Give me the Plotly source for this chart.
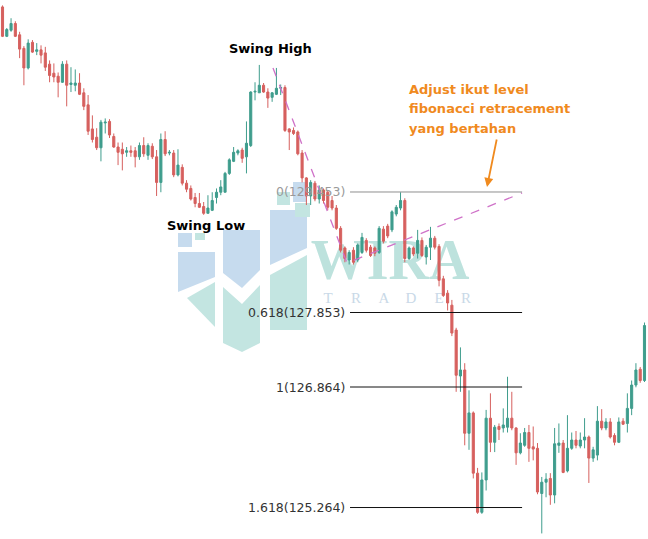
import plotly.graph_objects as go

# ---------------- data ----------------
opens = [131.91,131.52,131.60,131.69,131.54,131.36,131.10,131.44,131.32,131.34,
         131.30,131.15,131.03,130.99,130.91,131.15,130.88,130.87,130.90,130.77,
         130.61,130.29,130.18,130.04,130.37,130.39,130.19,130.05,130.02,129.98,
         130.00,130.00,129.92,130.07,129.94,130.06,129.92,129.58,130.15,129.97,
         129.97,129.68,129.78,129.57,129.50,129.38,129.30,129.26,129.17,129.21,
         129.38,129.45,129.45,129.70,129.86,129.97,130.01,129.92,130.07,130.78,
         130.77,130.87,130.78,130.71,130.75,130.83,130.84,130.29,130.27,130.25,
         129.97,129.64,129.40,129.57,129.36,129.48,129.45,129.34,129.24,128.97,
         128.71,128.55,128.68,128.55,128.65,128.81,128.72,128.71,128.65,128.96,
         129.00,128.95,129.16,129.24,129.34,128.57,128.71,128.64,128.81,128.59,
         128.72,128.84,128.73,128.30,128.11,127.95,127.62,127.01,127.09,126.25,
         126.52,125.72,125.20,125.63,126.45,126.13,126.34,126.32,126.33,126.45,
         126.32,125.99,126.09,126.26,126.07,126.05,125.45,125.60,125.65,125.43,
         126.09,126.12,125.75,126.05,126.16,126.08,126.16,126.20,125.92,125.96,
         126.41,126.32,126.40,126.22,126.13,126.41,126.38,126.58,126.89,127.10,
         126.95]
highs = [131.93,131.63,131.76,131.72,131.58,131.39,131.48,131.47,131.43,131.40,
         131.38,131.20,131.16,131.04,131.19,131.20,131.11,131.08,131.03,130.83,
         130.74,130.47,130.30,130.41,130.43,130.42,130.23,130.11,130.11,130.05,
         130.07,130.05,130.11,130.18,130.10,130.10,130.01,130.23,130.26,130.01,
         130.01,130.02,129.82,129.61,129.54,129.44,129.44,129.32,129.41,129.45,
         129.50,129.61,129.72,129.90,130.05,130.02,130.04,130.39,130.79,130.91,
         131.14,130.90,130.83,130.78,131.10,130.88,130.87,130.30,130.31,130.27,
         130.01,129.65,129.61,129.60,129.54,129.50,129.48,129.40,129.28,129.00,
         128.73,128.68,128.72,128.77,128.91,128.84,128.75,128.73,129.00,129.00,
         129.03,129.21,129.28,129.45,129.37,128.73,128.73,128.95,128.85,128.75,
         128.99,128.87,128.76,128.34,128.15,128.02,127.65,127.39,127.18,126.82,
         126.54,125.79,125.73,126.56,126.78,126.36,126.38,126.58,127.00,126.80,
         126.33,126.25,126.32,126.36,126.34,126.12,125.67,125.72,125.72,126.32,
         126.38,126.16,126.49,126.26,126.28,126.26,126.45,126.22,126.07,126.61,
         126.57,126.45,126.45,126.25,126.46,126.45,126.78,126.95,127.18,127.13,
         127.72]
lows = [131.51,131.51,131.58,131.51,131.23,130.87,131.08,131.30,131.27,131.16,
        131.06,130.91,130.91,130.71,130.90,130.59,130.78,130.79,130.74,130.54,
        130.21,130.11,130.01,129.86,130.23,130.17,130.04,129.81,129.74,129.92,
        129.92,129.78,129.88,129.92,129.88,129.89,129.40,129.45,129.93,129.94,
        129.65,129.66,129.54,129.45,129.34,129.25,129.24,129.15,129.17,129.20,
        129.30,129.41,129.45,129.68,129.85,129.94,129.84,129.70,130.05,130.67,
        130.77,130.77,130.57,130.65,130.74,130.74,130.25,130.01,130.21,129.94,
        129.58,129.28,129.28,129.33,129.30,129.30,129.21,129.21,128.95,128.65,
        128.52,128.49,128.49,128.52,128.63,128.65,128.59,128.60,128.63,128.77,
        128.84,128.92,129.13,129.21,128.52,128.55,128.60,128.57,128.59,128.49,
        128.55,128.69,128.20,128.06,127.88,127.54,126.80,126.80,126.09,126.03,
        125.65,125.18,125.18,125.49,126.00,126.00,126.16,126.26,126.26,126.29,
        125.83,125.97,126.07,125.87,125.89,125.44,124.92,125.40,125.30,125.32,
        125.99,125.72,125.73,126.03,126.05,126.05,126.05,125.59,125.87,125.89,
        126.29,126.29,126.18,126.09,126.12,126.36,126.26,126.49,126.86,126.92,
        126.93]
closes = [131.52,131.61,131.69,131.52,131.35,131.10,131.43,131.31,131.34,131.27,
          131.11,131.00,130.98,130.91,131.15,130.87,130.90,130.90,130.75,130.59,
          130.26,130.15,130.04,130.38,130.38,130.21,130.05,129.98,129.96,130.00,
          129.98,129.92,130.07,129.96,130.07,129.92,129.58,130.15,129.96,129.98,
          129.68,129.81,129.57,129.49,129.36,129.30,129.25,129.17,129.24,129.34,
          129.45,129.52,129.70,129.88,129.98,130.00,129.90,130.10,130.78,130.79,
          130.87,130.78,130.70,130.77,130.83,130.84,130.27,130.25,130.23,129.96,
          129.64,129.40,129.58,129.36,129.48,129.34,129.25,129.24,128.97,128.68,
          128.57,128.65,128.52,128.75,128.85,128.68,128.61,128.64,128.97,128.80,
          128.87,129.19,129.25,129.34,128.57,128.71,128.63,128.81,128.61,128.72,
          128.84,128.72,128.28,128.08,127.98,127.58,127.02,127.09,126.25,126.52,
          125.72,125.20,125.63,126.45,126.13,126.33,126.30,126.36,126.45,126.32,
          125.99,126.12,126.26,126.05,126.04,125.47,125.60,125.64,125.43,126.11,
          126.12,125.73,126.05,126.16,126.09,126.16,126.20,125.92,126.03,126.41,
          126.32,126.40,126.20,126.13,126.40,126.37,126.58,126.89,127.09,126.95,
          127.68]
bars = list(range(len(opens)))

fib_levels = [0, 0.618, 1, 1.618]
fib_prices = [129.453, 127.853, 126.864, 125.264]
fib_labels = [f"{l}({p:.3f})" for l, p in zip(fib_levels, fib_prices)]
fib_colors = ["#8f8f8f", "#111111", "#111111", "#111111"]
fib_label_colors = ["#9a9a9a", "#333333", "#333333", "#333333"]
fib_start, fib_end = 81.2, 121.4   # bar index span of the fib lines

# dashed guide: swing-high -> low of the pullback -> right end of level 0
guide_bars = [63.2, 80.5, 121.4]
guide_prices = [131.10, 128.51, 129.44]

swing_high = (62.5, 131.36)
swing_low = (47.5, 129.01)

note_lines = ["Adjust ikut level", "fibonacci retracement", "yang bertahan"]
wm_word = "WIRA"
wm_sub = list("TRADER")

# ---------------- figure ----------------
fig = go.Figure()

# watermark (pixel-like base axes, drawn beneath the chart)
BLUE = "#c6dbee"
TEAL = "#c3e5e1"
logo = [
    (BLUE, "M178,233 L192,233 L192,247 L178,247 Z"),
    (BLUE, "M178,252 L215,252 L215,277 L178,292 Z"),
    (BLUE, "M223,230 L260,230 L260,270 L242,288 L223,273 Z"),
    (BLUE, "M270,210 L307,210 L307,248 L270,265 Z"),
    (BLUE, "M293,182 L307,182 L307,202 L293,202 Z"),
    (TEAL, "M195,233 L205,233 L205,240 L195,240 Z"),
    (TEAL, "M187,298 L215,282 L215,327 Z"),
    (TEAL, "M223,287 L242,304 L260,285 L260,343 L242,352 L223,343 Z"),
    (TEAL, "M270,275 L307,255 L307,330 L270,330 Z"),
    (TEAL, "M277,192 L290,192 L290,205 L277,205 Z"),
    (TEAL, "M295,203 L310,203 L310,217 L295,217 Z"),
]
shapes = []
for col, path in logo:
    shapes.append(dict(type="path", path=path, xref="x", yref="y",
                       fillcolor=col, line=dict(width=0), layer="below"))

fig.add_trace(go.Scatter(x=[390], y=[265], mode="text", text=[wm_word],
                         textfont=dict(family="Liberation Serif", size=56,
                                       color="#bde2dd", weight="bold"),
                         hoverinfo="skip", showlegend=False, xaxis="x", yaxis="y"))
fig.add_trace(go.Scatter(x=[328, 356, 384, 411, 439, 466], y=[299] * 6, mode="text",
                         text=wm_sub,
                         textfont=dict(family="Liberation Serif", size=15, color="#c9d9e7"),
                         hoverinfo="skip", showlegend=False, xaxis="x", yaxis="y"))

# candles
fig.add_trace(go.Candlestick(
    x=bars, open=opens, high=highs, low=lows, close=closes,
    increasing=dict(line=dict(color="#3f9d8d", width=1), fillcolor="#3f9d8d"),
    decreasing=dict(line=dict(color="#d6605e", width=1), fillcolor="#d6605e"),
    whiskerwidth=0, showlegend=False, hoverinfo="skip",
    xaxis="x2", yaxis="y2"))

# dashed guide
fig.add_trace(go.Scatter(x=guide_bars, y=guide_prices, mode="lines",
                         line=dict(color="#cf72c8", width=1.3, dash="dash"),
                         hoverinfo="skip", showlegend=False, xaxis="x2", yaxis="y2"))

# fib lines
for p, c in zip(fib_prices, fib_colors):
    shapes.append(dict(type="line", xref="x2", yref="y2", x0=fib_start, x1=fib_end,
                       y0=p, y1=p, line=dict(color=c, width=1)))

annotations = []
for p, lab, c in zip(fib_prices, fib_labels, fib_label_colors):
    annotations.append(dict(x=fib_start - 0.8, y=p, xref="x2", yref="y2", text=lab,
                            showarrow=False, xanchor="right", yanchor="middle",
                            font=dict(family="DejaVu Sans", size=12.5, color=c)))

annotations.append(dict(x=swing_high[0], y=swing_high[1], xref="x2", yref="y2",
                        text="<b>Swing High</b>", showarrow=False,
                        font=dict(family="DejaVu Sans", size=13, color="#000000")))
annotations.append(dict(x=swing_low[0], y=swing_low[1], xref="x2", yref="y2",
                        text="<b>Swing Low</b>", showarrow=False,
                        font=dict(family="DejaVu Sans", size=13, color="#000000")))

ORANGE = "#f08a1e"
for i, t in enumerate(note_lines):
    annotations.append(dict(x=407, y=89 + i * 19.5, xref="x", yref="y", text=f"<b>{t}</b>",
                            showarrow=False, xanchor="left", yanchor="middle",
                            font=dict(family="DejaVu Sans", size=13, color=ORANGE)))
annotations.append(dict(x=487, y=187, xref="x", yref="y", ax=497, ay=138,
                        axref="x", ayref="y", text="", showarrow=True,
                        arrowhead=2, arrowsize=1, arrowwidth=1.8, arrowcolor=ORANGE))

fig.update_layout(
    width=648, height=539,
    margin=dict(l=0, r=0, t=0, b=0),
    paper_bgcolor="white", plot_bgcolor="white",
    showlegend=False,
    hovermode=False,
    xaxis=dict(range=[0, 648], visible=False, fixedrange=True,
               rangeslider=dict(visible=False)),
    yaxis=dict(range=[539, 0], visible=False, fixedrange=True),
    xaxis2=dict(range=[-0.584, 150.82], overlaying="x", anchor="y2", visible=False,
                rangeslider=dict(visible=False)),
    yaxis2=dict(range=[124.846, 132.002], overlaying="y", anchor="x2", visible=False),
    shapes=shapes,
    annotations=annotations,
)

fig.write_html("out.html",
               config={"displayModeBar": False},
               post_script="document.body.style.margin='0';document.body.style.overflow='hidden';")
